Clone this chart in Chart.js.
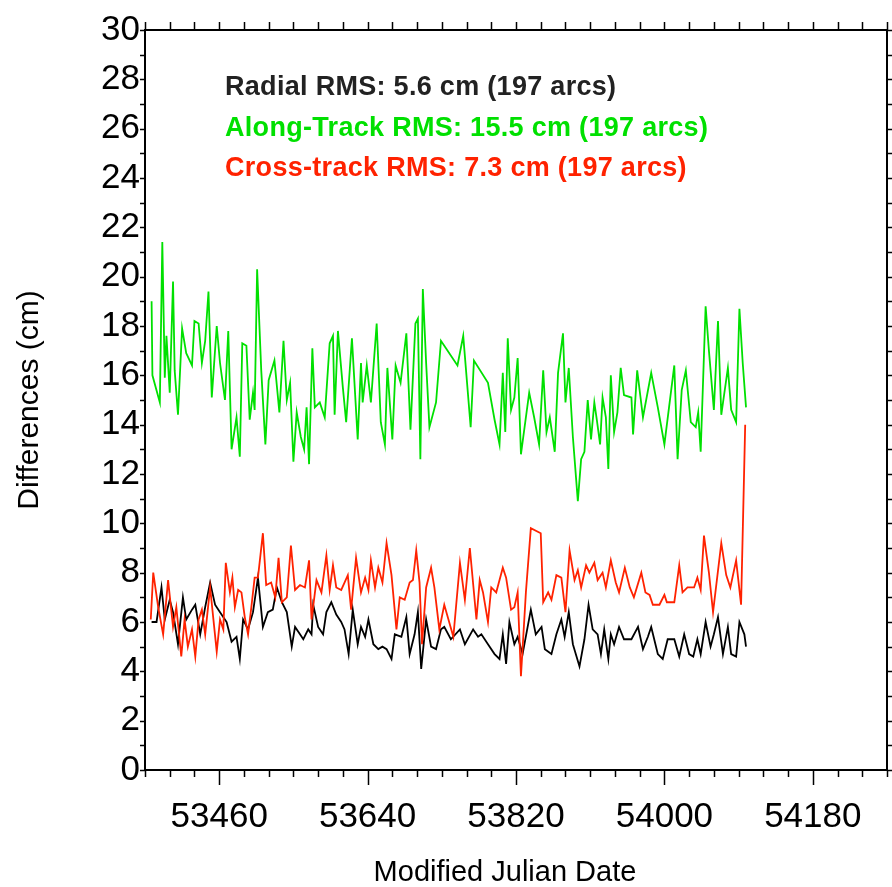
<!DOCTYPE html>
<html>
<head>
<meta charset="utf-8">
<title>Orbit differences</title>
<script src="https://cdn.jsdelivr.net/npm/chart.js@4.4.1/dist/chart.umd.min.js"></script>
<style>
  body { margin: 0; background: #fff; }
  #wrap { width: 892px; height: 887px; }
</style>
</head>
<body>
<div id="wrap">
  <canvas id="diffChart" width="892" height="887"></canvas>
</div>
<script>
// values (MJD, cm)
const radialDates = [53378, 53384, 53390, 53394, 53400, 53404, 53410, 53416, 53420, 53427, 53431, 53437, 53443, 53449, 53455, 53461, 53469, 53475, 53481, 53485, 53489, 53495, 53501, 53507, 53513, 53519, 53525, 53530, 53536, 53542, 53548, 53552, 53558, 53562, 53568, 53572, 53574, 53580, 53586, 53590, 53596, 53602, 53608, 53612, 53617, 53622, 53628, 53632, 53637, 53641, 53647, 53653, 53658, 53663, 53669, 53673, 53681, 53687, 53691, 53697, 53701, 53705, 53711, 53717, 53723, 53729, 53733, 53741, 53752, 53758, 53768, 53774, 53778, 53786, 53794, 53800, 53804, 53808, 53812, 53818, 53822, 53828, 53838, 53844, 53851, 53855, 53863, 53869, 53875, 53879, 53884, 53889, 53897, 53903, 53908, 53913, 53919, 53923, 53927, 53932, 53935, 53939, 53945, 53951, 53960, 53968, 53974, 53980, 53984, 53992, 53998, 54004, 54012, 54018, 54024, 54030, 54035, 54040, 54044, 54050, 54056, 54060, 54065, 54071, 54077, 54081, 54087, 54091, 54097, 54099];
const radialValues = [6.0, 6.0, 7.4, 6.1, 6.9, 6.4, 5.1, 7.0, 6.1, 6.5, 6.7, 5.5, 6.6, 7.6, 6.7, 6.4, 6.0, 5.2, 5.4, 4.5, 6.1, 5.7, 6.4, 7.8, 5.8, 6.4, 6.5, 7.4, 6.8, 6.4, 5.0, 5.8, 5.5, 5.3, 5.7, 5.5, 6.7, 5.8, 5.5, 6.4, 6.8, 6.3, 6.0, 5.7, 4.7, 6.5, 5.1, 5.8, 5.4, 6.1, 5.1, 4.9, 5.0, 4.9, 4.5, 5.5, 5.4, 6.2, 4.7, 5.5, 6.4, 4.1, 6.1, 5.0, 4.9, 5.7, 5.8, 5.3, 5.7, 5.1, 5.7, 5.4, 5.5, 5.1, 4.7, 4.5, 5.5, 4.3, 6.0, 5.1, 5.4, 4.7, 6.5, 5.5, 5.8, 4.9, 4.7, 5.5, 6.1, 5.4, 6.4, 5.1, 4.2, 5.3, 6.7, 5.7, 5.5, 4.7, 5.7, 4.5, 5.5, 5.1, 5.8, 5.3, 5.3, 5.8, 4.9, 5.4, 5.8, 4.7, 4.5, 5.3, 5.3, 4.6, 5.5, 4.7, 4.6, 5.3, 4.7, 6.0, 5.0, 5.5, 6.2, 4.7, 5.8, 4.7, 4.6, 6.0, 5.5, 5.0];

const alongDates = [53378, 53379, 53388, 53391, 53394, 53396, 53400, 53404, 53406, 53410, 53415, 53420, 53427, 53430, 53435, 53439, 53443, 53447, 53451, 53457, 53461, 53467, 53471, 53475, 53481, 53485, 53488, 53493, 53497, 53501, 53503, 53506, 53511, 53516, 53520, 53527, 53533, 53538, 53542, 53546, 53550, 53554, 53559, 53563, 53566, 53569, 53573, 53576, 53582, 53588, 53594, 53598, 53600, 53604, 53610, 53614, 53621, 53628, 53632, 53634, 53639, 53644, 53651, 53656, 53661, 53664, 53670, 53674, 53680, 53687, 53692, 53698, 53701, 53704, 53707, 53711, 53715, 53723, 53729, 53733, 53749, 53756, 53765, 53769, 53786, 53794, 53800, 53804, 53807, 53810, 53814, 53818, 53822, 53826, 53836, 53842, 53848, 53853, 53857, 53861, 53867, 53871, 53877, 53880, 53884, 53889, 53895, 53899, 53903, 53907, 53911, 53915, 53918, 53922, 53925, 53929, 53932, 53935, 53939, 53943, 53947, 53951, 53960, 53962, 53967, 53974, 53984, 53992, 54000, 54012, 54016, 54021, 54026, 54032, 54038, 54041, 54044, 54050, 54054, 54060, 54065, 54069, 54077, 54081, 54087, 54091, 54095, 54099];
const alongValues = [19.0, 16.0, 14.9, 21.4, 15.9, 17.6, 15.3, 19.8, 16.2, 14.4, 17.9, 16.9, 16.4, 18.2, 18.1, 16.5, 17.4, 19.4, 15.1, 18.0, 16.5, 15.0, 17.8, 13.0, 14.3, 12.7, 17.3, 17.2, 14.2, 15.3, 14.6, 20.3, 16.2, 13.2, 15.8, 16.6, 14.5, 17.4, 15.0, 15.7, 12.5, 14.5, 13.5, 13.0, 14.7, 12.4, 17.1, 14.7, 14.9, 14.3, 17.3, 17.6, 14.4, 17.8, 15.5, 14.1, 17.5, 13.4, 16.5, 14.9, 16.4, 14.9, 18.1, 14.1, 13.2, 16.3, 13.4, 16.4, 15.7, 17.7, 13.8, 18.1, 18.3, 12.6, 19.5, 16.5, 13.9, 14.9, 17.4, 17.2, 16.4, 17.6, 13.9, 16.6, 15.7, 14.2, 13.2, 16.1, 13.7, 17.5, 14.6, 15.1, 16.7, 12.8, 15.3, 14.3, 13.2, 16.2, 13.7, 14.3, 12.9, 16.1, 17.7, 14.9, 16.3, 13.5, 10.9, 12.6, 12.9, 15.0, 13.4, 14.9, 14.2, 13.2, 15.1, 14.3, 12.2, 16.0, 13.7, 14.5, 16.3, 15.2, 15.1, 13.6, 16.2, 14.3, 16.1, 14.7, 13.2, 16.4, 12.6, 15.4, 16.2, 14.1, 13.9, 14.5, 12.9, 18.8, 17.0, 14.6, 18.2, 14.4, 16.3, 14.6, 14.1, 18.7, 16.5, 14.7];

const crossDates = [53377, 53380, 53386, 53392, 53398, 53404, 53408, 53414, 53418, 53422, 53427, 53431, 53435, 53439, 53443, 53449, 53453, 53457, 53461, 53465, 53468, 53473, 53476, 53479, 53483, 53487, 53491, 53495, 53499, 53503, 53507, 53513, 53517, 53523, 53528, 53532, 53536, 53542, 53547, 53552, 53558, 53564, 53569, 53572, 53578, 53584, 53590, 53594, 53598, 53602, 53608, 53612, 53616, 53620, 53626, 53632, 53637, 53641, 53644, 53649, 53653, 53658, 53663, 53669, 53675, 53679, 53685, 53691, 53695, 53699, 53703, 53706, 53711, 53717, 53721, 53727, 53733, 53744, 53752, 53758, 53764, 53772, 53776, 53780, 53786, 53790, 53796, 53804, 53808, 53814, 53818, 53822, 53826, 53832, 53838, 53850, 53853, 53859, 53863, 53869, 53875, 53880, 53885, 53891, 53895, 53899, 53905, 53909, 53915, 53919, 53925, 53929, 53935, 53941, 53945, 53952, 53958, 53963, 53972, 53977, 53982, 53986, 53994, 54000, 54003, 54012, 54018, 54022, 54028, 54036, 54040, 54044, 54048, 54054, 54059, 54069, 54075, 54080, 54087, 54093, 54098];
const crossValues = [6.1, 8.0, 6.6, 5.5, 7.7, 5.8, 6.6, 4.6, 6.1, 5.0, 5.7, 4.6, 6.1, 6.5, 5.5, 7.4, 6.1, 4.8, 6.1, 5.7, 8.4, 7.2, 7.8, 6.6, 7.3, 7.2, 6.2, 5.5, 6.6, 7.8, 7.8, 9.6, 7.5, 7.6, 7.0, 8.6, 6.8, 7.0, 9.1, 7.3, 7.5, 7.4, 8.5, 6.1, 7.7, 7.2, 8.7, 7.3, 8.3, 7.4, 7.3, 7.6, 7.9, 6.5, 8.6, 7.2, 7.8, 7.3, 8.5, 7.4, 8.2, 7.6, 9.2, 7.9, 5.7, 7.0, 6.9, 7.6, 7.7, 8.9, 7.6, 5.1, 7.4, 8.2, 7.4, 5.7, 6.7, 5.4, 8.4, 6.9, 9.0, 6.1, 7.7, 7.2, 6.0, 7.4, 7.2, 8.2, 7.8, 6.5, 6.6, 7.2, 3.8, 7.2, 9.8, 9.6, 6.8, 7.2, 6.9, 7.9, 7.8, 6.4, 8.9, 7.7, 8.1, 7.4, 8.3, 8.0, 8.4, 7.7, 8.0, 7.4, 8.5, 7.6, 7.2, 8.2, 7.4, 7.0, 8.0, 7.2, 7.1, 6.7, 6.7, 7.1, 6.8, 6.8, 8.3, 7.2, 7.4, 7.4, 7.8, 7.3, 9.5, 8.0, 6.4, 9.2, 7.9, 7.4, 8.5, 6.7, 14.0];

const legendLines = [
  { text: "Radial RMS: 5.6 cm (197 arcs)", color: "#222222" },
  { text: "Along-Track RMS: 15.5 cm (197 arcs)", color: "#00e000" },
  { text: "Cross-track RMS: 7.3 cm (197 arcs)", color: "#ff2200" },
];

const xMin = 53370;
const xMax = 54270;
const xMajorStart = 53460;
const xMajorStep = 180;
const xTitle = "Modified Julian Date";

const FONT = "'Liberation Sans', Arial, Helvetica, sans-serif";

const toPoints = (dates, values) => dates.map((d, i) => ({ x: d, y: values[i] }));

// frame + outward ticks on all four sides, legend text, x title
const frameTicks = {
  id: "frameTicks",
  afterDraw(chart) {
    const { ctx, chartArea: a, scales } = chart;
    const x = scales.x;
    const y = scales.y;
    ctx.save();
    ctx.strokeStyle = "#000";
    ctx.lineWidth = 1.5;
    ctx.beginPath();
    x.ticks.forEach((t) => {
      const px = Math.round(x.getPixelForValue(t.value)) + 0.5;
      const major = (t.value - xMajorStart) % xMajorStep === 0;
      ctx.moveTo(px, a.bottom);
      ctx.lineTo(px, a.bottom + (major ? 15 : 7));
      ctx.moveTo(px, a.top);
      ctx.lineTo(px, a.top - 8);
    });
    y.ticks.forEach((t) => {
      const py = Math.round(y.getPixelForValue(t.value)) + 0.5;
      ctx.moveTo(a.left, py);
      ctx.lineTo(a.left - 5, py);
      ctx.moveTo(a.right, py);
      ctx.lineTo(a.right + 5, py);
    });
    ctx.stroke();
    ctx.lineWidth = 2;
    ctx.strokeRect(a.left, a.top, a.right - a.left, a.bottom - a.top);

    ctx.textBaseline = "middle";
    ctx.textAlign = "left";
    ctx.font = "bold 27px " + FONT;
    ctx.letterSpacing = "0.3px";
    legendLines.forEach((l, i) => {
      ctx.fillStyle = l.color;
      ctx.fillText(l.text, 225, 88 + i * 40.5);
    });

    ctx.letterSpacing = "0px";
    ctx.font = "29px " + FONT;
    ctx.fillStyle = "#000";
    ctx.textAlign = "center";
    ctx.fillText(xTitle, 505, 873);
    ctx.restore();
  },
};

const ctx = document.getElementById("diffChart");

new Chart(ctx, {
  type: "line",
  data: {
    datasets: [
      {
        label: "Cross-track",
        data: toPoints(crossDates, crossValues),
        borderColor: "#ff2200",
        borderWidth: 1.8,
        pointRadius: 0,
        order: 1,
      },
      {
        label: "Along-Track",
        data: toPoints(alongDates, alongValues),
        borderColor: "#00e000",
        borderWidth: 1.8,
        pointRadius: 0,
        order: 2,
      },
      {
        label: "Radial",
        data: toPoints(radialDates, radialValues),
        borderColor: "#000000",
        borderWidth: 1.8,
        pointRadius: 0,
        order: 3,
      },
    ],
  },
  options: {
    responsive: false,
    animation: false,
    layout: { padding: { top: 30, right: 5, left: 0, bottom: 0 } },
    plugins: {
      legend: { display: false },
      tooltip: { enabled: false },
    },
    scales: {
      x: {
        type: "linear",
        min: xMin,
        max: xMax,
        afterFit: (s) => {
          s.height = 117;
          s.paddingLeft = 0;
          s.paddingRight = 0;
        },
        grid: { display: false },
        border: { display: false },
        ticks: {
          stepSize: 30,
          autoSkip: false,
          maxRotation: 0,
          padding: 18,
          color: "#000",
          font: { family: FONT, size: 35 },
          callback: (v) => ((v - xMajorStart) % xMajorStep === 0 ? String(v) : ""),
        },
        title: { display: false },
      },
      y: {
        min: 0,
        max: 30,
        afterFit: (s) => { s.width = 145; },
        grid: { display: false },
        border: { display: false },
        ticks: {
          stepSize: 1,
          autoSkip: false,
          padding: -3,
          color: "#000",
          font: { family: FONT, size: 35 },
          callback: (v) => (v % 2 === 0 ? String(v) : ""),
        },
        title: {
          display: true,
          text: "Differences (cm)",
          color: "#000",
          font: { family: FONT, size: 30 },
          padding: { top: 12, bottom: 0 },
        },
      },
    },
  },
  plugins: [frameTicks],
});
</script>
</body>
</html>
